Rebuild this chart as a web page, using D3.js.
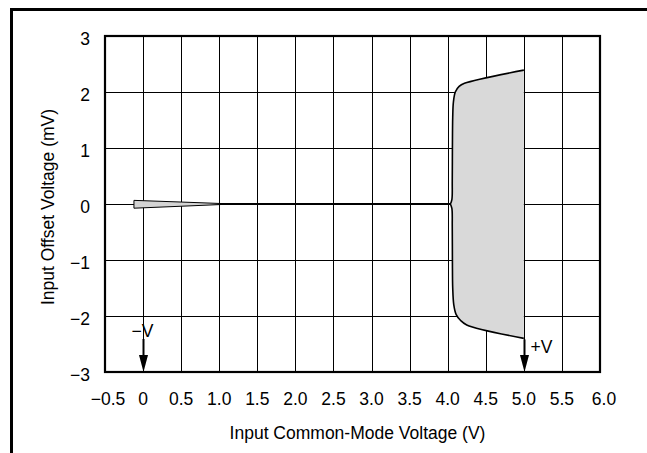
<!DOCTYPE html>
<html><head><meta charset="utf-8">
<script src="https://cdn.jsdelivr.net/npm/d3@7"></script>
<style>
html,body{margin:0;padding:0;background:#fff;}
svg{display:block;}
text{font-family:"Liberation Sans",Arial,Helvetica,sans-serif;fill:#000;}
</style></head>
<body>
<svg id="c" width="647" height="453"></svg>
<script>
// ---- data ----
const xTicks = [-0.5,0,0.5,1.0,1.5,2.0,2.5,3.0,3.5,4.0,4.5,5.0,5.5,6.0];
const xTickLabels = ["\u22120.5","0","0.5","1.0","1.5","2.0","2.5","3.0","3.5","4.0","4.5","5.0","5.5","6.0"];
const yTicks = [-3,-2,-1,0,1,2,3];
const yTickLabels = ["\u22123","\u22122","\u22121","0","1","2","3"];
// small wedge near the negative rail
const wedgeUpper = [[-0.12,0.065],[0.5,0.035],[1.1,0.005]];
const wedgeLower = [[-0.12,-0.075],[0.5,-0.04],[1.1,-0.005]];
// typical (center) line
const centerLine = [[1.0,0],[4.035,0]];
// envelope near the positive rail
const envUpper = [[4.035,0],[4.055,0.08],[4.06,0.4],[4.062,1.0],[4.066,1.55],[4.075,1.82],[4.10,2.0],[4.15,2.1],[4.22,2.155],[5.0,2.39]];
const envLower = [[4.035,0],[4.055,-0.08],[4.06,-0.4],[4.062,-1.0],[4.066,-1.5],[4.08,-1.8],[4.11,-1.97],[4.17,-2.08],[4.25,-2.16],[5.0,-2.40]];
const railMarkers = [["\u2212V",0],["+V",5.0]];
const xTitle = "Input Common-Mode Voltage (V)";
const yTitle = "Input Offset Voltage (mV)";

// ---- layout ----
const svg = d3.select("#c");
const x = d3.scaleLinear().domain([-0.5,6]).range([105,600]);
const y = d3.scaleLinear().domain([-3,3]).range([372,36]);
const FS = "17.5px";

// outer frame
svg.append("rect").attr("x",11.5).attr("y",9.5).attr("width",700).attr("height",500)
  .attr("fill","none").attr("stroke","#000").attr("stroke-width",3);

// grid
const g = svg.append("g");
g.selectAll("line.v").data(xTicks).join("line")
  .attr("x1",d=>Math.round(x(d))+0.5).attr("x2",d=>Math.round(x(d))+0.5)
  .attr("y1",y(3)).attr("y2",y(-3)).attr("stroke","#000").attr("stroke-width",1);
g.selectAll("line.h").data(yTicks).join("line")
  .attr("y1",d=>Math.round(y(d))+0.5).attr("y2",d=>Math.round(y(d))+0.5)
  .attr("x1",x(-0.5)).attr("x2",x(6)).attr("stroke","#000").attr("stroke-width",1);

// wedge
const lin = d3.line().x(d=>x(d[0])).y(d=>y(d[1]));
svg.append("path").attr("d", lin(wedgeUpper.concat(wedgeLower.slice().reverse())) + "Z")
  .attr("fill","#d4d4d4").attr("stroke","#000").attr("stroke-width",1).attr("stroke-linejoin","round");

// center line
svg.append("path").attr("d", lin(centerLine)).attr("fill","none").attr("stroke","#000").attr("stroke-width",2);

// envelope
const cur = d3.line().x(d=>x(d[0])).y(d=>y(d[1])).curve(d3.curveCatmullRom.alpha(0.5));
const upPath = cur(envUpper);
const loPath = cur(envLower);
const loRev = cur(envLower.slice().reverse());
svg.append("path").attr("d", upPath + "L" + loRev.slice(1) + "Z")
  .attr("fill","#d9d9d9").attr("stroke","none");
svg.append("path").attr("d", upPath).attr("fill","none").attr("stroke","#000").attr("stroke-width",1.6);
svg.append("path").attr("d", loPath).attr("fill","none").attr("stroke","#000").attr("stroke-width",1.6);

// plot frame
svg.append("rect").attr("x",x(-0.5)).attr("y",y(3)).attr("width",x(6)-x(-0.5)).attr("height",y(-3)-y(3))
  .attr("fill","none").attr("stroke","#000").attr("stroke-width",2.2);

// rail markers
railMarkers.forEach(([lab,v])=>{
  const px = Math.round(x(v))+0.5;
  const top = lab==="+V" ? y(-2.40)+1 : 339;
  svg.append("line").attr("x1",px).attr("x2",px).attr("y1",top).attr("y2",360)
    .attr("stroke","#000").attr("stroke-width",2);
  svg.append("path").attr("d",`M${px-4.5},355L${px+4.5},355L${px},${y(-3)}Z`).attr("fill","#000");
  if(lab==="+V"){
    svg.append("text").attr("x",px+6).attr("y",353).attr("font-size",FS).text(lab);
  } else {
    svg.append("text").attr("x",px-1).attr("y",337).attr("text-anchor","middle").attr("font-size",FS).text(lab);
  }
});

// tick labels
svg.selectAll("text.xt").data(xTicks).join("text")
  .attr("x",(d,i)=>x(d)+(i===0?3:(i===xTicks.length-1?4:0))).attr("y",405)
  .attr("text-anchor","middle").attr("font-size",FS).text((d,i)=>xTickLabels[i]);
svg.selectAll("text.yt").data(yTicks).join("text")
  .attr("x",90).attr("y",d=>y(d)+9).attr("text-anchor","end").attr("font-size",FS)
  .text((d,i)=>yTickLabels[i]);

// titles
svg.append("text").attr("x",(x(-0.5)+x(6))/2+5).attr("y",439).attr("text-anchor","middle")
  .attr("font-size",FS).text(xTitle);
svg.append("text").attr("transform","translate(53.5,207) rotate(-90)").attr("text-anchor","middle")
  .attr("font-size",FS).text(yTitle);
</script>
</body></html>
